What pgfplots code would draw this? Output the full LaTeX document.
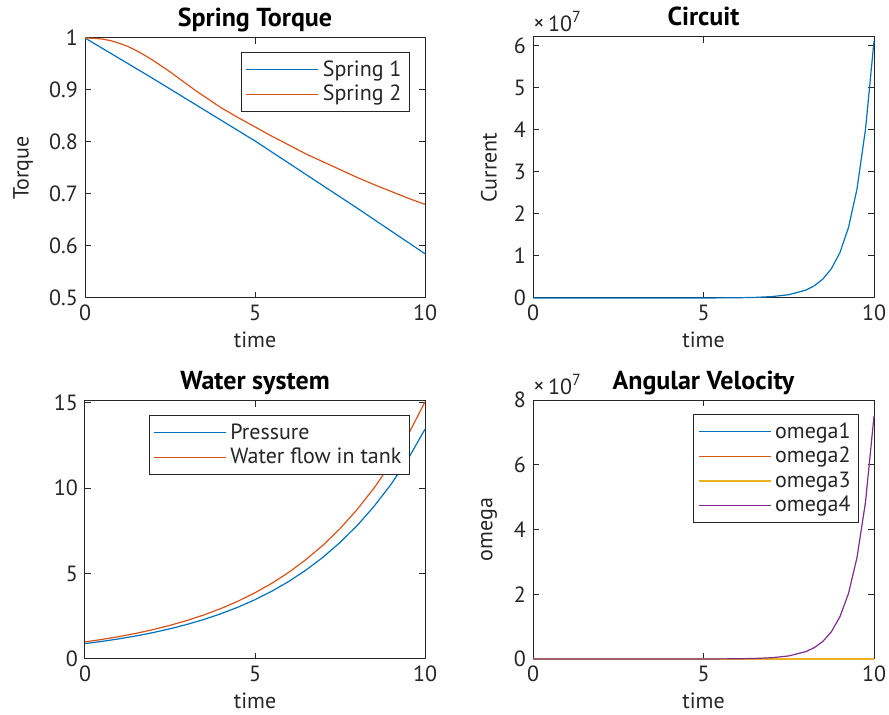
\documentclass[border=0pt]{standalone}
\usepackage{pgfplots}
\pgfplotsset{compat=1.18}
\usepackage{fontspec}
\setmainfont{PT Sans}

\definecolor{mblue}{rgb}{0,0.447,0.741}
\definecolor{morange}{rgb}{0.85,0.325,0.098}
\definecolor{myellow}{rgb}{0.929,0.694,0.125}
\definecolor{mpurple}{rgb}{0.494,0.184,0.556}
\definecolor{axgray}{rgb}{0.15,0.15,0.15}

\newcommand{\tickfont}{\fontsize{11}{13}\selectfont}
\newcommand{\expten}{{\fontsize{11}{13}\selectfont\raisebox{0.5pt}{×}\,10\raisebox{4.5pt}{\fontsize{8}{9}\selectfont 7}}}

\pgfplotsset{
  mstyle/.style={
    scale only axis,
    anchor=south west,
    clip=false,
    xmin=0, xmax=10, xtick={0,5,10},
    axis line style={draw=axgray, line width=0.5pt},
    tick style={draw=axgray, line width=0.5pt},
    tick align=inside,
    major tick length=3pt,
    tick label style={font=\tickfont, text=axgray},
    /pgf/number format/assume math mode=true,
    xlabel={time},
    label style={font=\tickfont, text=axgray},
    xlabel style={at={(axis description cs:0.5,0)}, anchor=center, yshift=-21pt},
    every axis title shift=0pt,
    title style={font=\fontsize{13}{15}\selectfont\bfseries, at={(axis description cs:0.5,1)}, anchor=base, yshift=5.5pt},
    legend cell align=left,
    legend style={draw=axgray, line width=0.5pt, font=\tickfont, text=axgray,
      at={(axis description cs:1,1)}, anchor=north east, xshift=-7.5pt, yshift=-7pt,
      row sep=-1pt, inner xsep=2pt},
    legend image code/.code={\draw[#1, line width=0.6pt] (0pt,0pt) -- (36pt,0pt);},
    every axis plot/.append style={line width=0.6pt, mark=none},
  }
}

\begin{document}
\begin{tikzpicture}
\useasboundingbox (0,0) rectangle (444.5pt,357.5pt);

% top left
\begin{axis}[mstyle,
  at={(42.5pt,208.5pt)}, width=170pt, height=130pt,
  ymin=0.5, ymax=1, ytick={0.5,0.6,0.7,0.8,0.9,1},
  title={Spring Torque},
  ylabel={Torque},
  ylabel style={at={(axis description cs:-0.182,0.5)}, anchor=center},
]
\addplot[mblue] coordinates {
(0,1) (1,0.961) (2,0.922) (3,0.882) (4,0.842) (5,0.802)
(6,0.759) (7,0.716) (8,0.673) (9,0.629) (10,0.585)
};
\addplot[morange] coordinates {
(0,1) (0.25,0.9995) (0.5,0.998) (0.75,0.995) (1,0.99) (1.25,0.984)
(1.5,0.976) (1.75,0.967) (2,0.957) (2.25,0.946) (2.5,0.935)
(2.75,0.923) (3,0.911) (3.25,0.899) (3.5,0.888) (3.75,0.877)
(4,0.866) (4.5,0.847) (5,0.829)
(5.5,0.811) (6,0.794) (6.5,0.777) (7,0.762) (7.5,0.747)
(8,0.732) (8.5,0.718) (9,0.705) (9.5,0.692) (10,0.68)
};
\legend{Spring 1, Spring 2}
\end{axis}

% top right
\begin{axis}[mstyle, name=circ,
  at={(266.5pt,208.5pt)}, width=170.5pt, height=130.5pt,
  ymin=0, ymax=6.2, ytick={0,1,2,3,4,5,6},
  title={Circuit},
  ylabel={Current},
  ylabel style={at={(axis description cs:-0.129,0.5)}, anchor=center},
]
\addplot[mblue] coordinates {
(0,0) (1,0) (2,0) (3,0.00003) (4,0.00017) (5,0.001) (5.5,0.0024)
(6,0.0057) (6.5,0.0136) (7,0.0325) (7.5,0.078) (8,0.187)
(8.25,0.29) (8.5,0.449) (8.75,0.696) (9,1.077) (9.25,1.669)
(9.5,2.585) (9.75,4.0) (10,6.1)
};
\end{axis}
\node[text=axgray, anchor=base west, inner sep=0pt]
  at ([yshift=2.5pt]circ.north west) {\expten};

% bottom left
\begin{axis}[mstyle,
  at={(42.5pt,28pt)}, width=170pt, height=129pt,
  ymin=0, ymax=15.1, ytick={0,5,10,15},
  title={Water system},
]
\addplot[mblue] coordinates {
(0,0.9) (0.5,1.03) (1,1.179) (1.5,1.349) (2,1.544) (2.5,1.767)
(3,2.023) (3.5,2.316) (4,2.65) (4.5,3.033) (5,3.471) (5.5,3.973)
(6,4.546) (6.5,5.205) (7,5.955) (7.5,6.818) (8,7.8) (8.5,8.93)
(9,10.22) (9.5,11.7) (10,13.45)
};
\addplot[morange] coordinates {
(0,1.0) (0.5,1.145) (1,1.311) (1.5,1.501) (2,1.719) (2.5,1.968)
(3,2.254) (3.5,2.581) (4,2.955) (4.5,3.384) (5,3.875) (5.5,4.437)
(6,5.08) (6.5,5.82) (7,6.66) (7.5,7.63) (8,8.74) (8.5,10.0)
(9,11.45) (9.5,13.11) (10,15.05)
};
\legend{Pressure, Water flow in tank}
\end{axis}

% bottom right
\begin{axis}[mstyle, name=omg,
  at={(266.5pt,28pt)}, width=170.5pt, height=129.5pt,
  ymin=0, ymax=8, ytick={0,2,4,6,8},
  title={Angular Velocity},
  ylabel={omega},
  ylabel style={at={(axis description cs:-0.129,0.5)}, anchor=center},
]
\addplot[mblue] coordinates {(0,0) (10,0)};
\addplot[morange] coordinates {(0,0) (10,0)};
\addplot[myellow] coordinates {(0,0) (10,0)};
\addplot[mpurple] coordinates {
(0,0) (1,0) (2,0) (3,0.00004) (4,0.0002) (5,0.0012) (5.5,0.0029)
(6,0.0068) (6.5,0.0164) (7,0.0394) (7.5,0.0944) (8,0.2265)
(8.25,0.351) (8.5,0.543) (8.75,0.842) (9,1.303) (9.25,2.018)
(9.5,3.127) (9.75,4.84) (10,7.5)
};
\legend{omega1, omega2, omega3, omega4}
\end{axis}
\node[text=axgray, anchor=base west, inner sep=0pt]
  at ([yshift=3pt]omg.north west) {\expten};
\end{tikzpicture}
\end{document}
